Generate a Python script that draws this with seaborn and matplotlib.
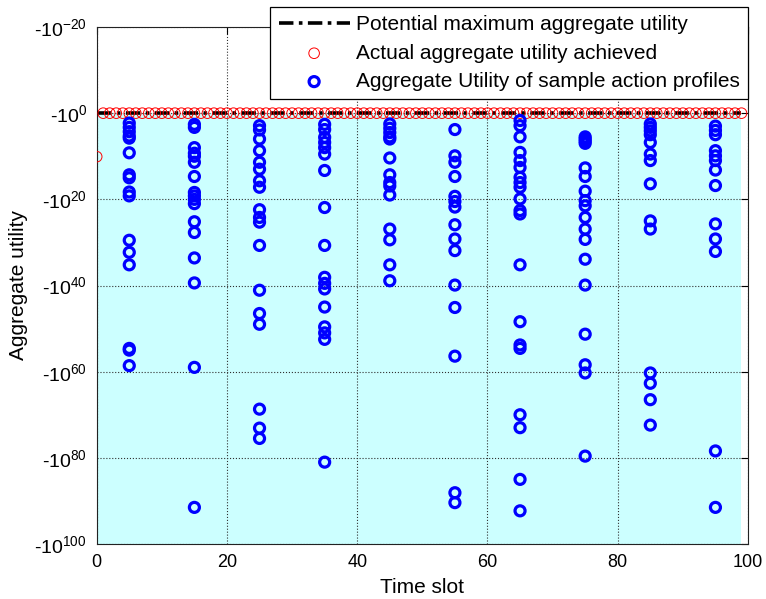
import numpy as np
import pandas as pd
import matplotlib
matplotlib.use("Agg")
import matplotlib.pyplot as plt
import seaborn as sns

# y values are the exponents k of -10^k (bigger k = worse utility, lower on the plot)
time_slots = list(range(0, 100))
potential_max_exp = [0.0] * 100
actual_exp = [10.1] + [0.0] * 99

sample_slots = [5, 15, 25, 35, 45, 55, 65, 75, 85, 95]
sample_exp_t5 = [2.3, 3.3, 4.3, 5.3, 5.8, 9.2, 14.3, 15.0, 18.3, 19.2, 29.5, 32.3, 35.2, 54.6, 55.0, 58.6]
sample_exp_t15 = [2.6, 3.3, 8.0, 9.3, 10.0, 11.4, 14.7, 18.4, 19.2, 20.0, 21.0, 25.2, 27.7, 33.6, 39.4, 59.0, 91.5]
sample_exp_t25 = [2.9, 3.9, 6.0, 8.7, 11.4, 13.0, 15.7, 17.2, 22.4, 24.2, 25.3, 30.7, 41.1, 46.5, 49.0, 68.7, 73.1, 75.5]
sample_exp_t35 = [2.6, 3.8, 5.6, 6.8, 8.0, 9.5, 13.3, 21.9, 30.7, 38.1, 39.5, 40.8, 45.0, 49.6, 51.0, 52.5, 81.0]
sample_exp_t45 = [2.5, 3.5, 4.5, 5.5, 6.0, 10.4, 14.3, 16.1, 16.9, 19.0, 26.9, 29.4, 35.2, 38.9]
sample_exp_t55 = [3.8, 9.9, 11.4, 14.7, 19.3, 20.5, 21.8, 25.9, 29.2, 31.9, 39.9, 45.1, 56.4, 88.1, 90.4]
sample_exp_t65 = [1.7, 2.9, 5.5, 9.1, 11.0, 12.6, 14.9, 16.1, 17.2, 19.9, 22.6, 23.4, 35.2, 48.4, 53.8, 54.6, 70.0, 73.0, 85.0, 92.3]
sample_exp_t75 = [5.5, 6.0, 6.5, 7.0, 12.7, 14.7, 18.1, 20.3, 21.5, 24.2, 26.9, 29.3, 33.9, 39.9, 51.3, 58.4, 60.3, 79.6]
sample_exp_t85 = [2.5, 3.3, 4.1, 5.0, 6.8, 9.5, 11.0, 16.4, 25.0, 26.9, 60.3, 62.7, 66.5, 72.4]
sample_exp_t95 = [3.0, 4.0, 5.0, 8.7, 9.9, 11.0, 13.2, 16.8, 25.7, 29.2, 32.1, 78.4, 91.5]

y_tick_exps = [-20, 0, 20, 40, 60, 80, 100]
x_ticks = [0, 20, 40, 60, 80, 100]

sample_lists = [sample_exp_t5, sample_exp_t15, sample_exp_t25, sample_exp_t35, sample_exp_t45,
                sample_exp_t55, sample_exp_t65, sample_exp_t75, sample_exp_t85, sample_exp_t95]
rows = []
for slot, exps in zip(sample_slots, sample_lists):
    for e in exps:
        rows.append({"slot": slot, "exp": e})
samples_df = pd.DataFrame(rows)
actual_df = pd.DataFrame({"slot": time_slots, "exp": actual_exp})
potential_df = pd.DataFrame({"slot": time_slots, "exp": potential_max_exp})

sns.set_style("white")
plt.rcParams['font.family'] = ['Liberation Sans', 'DejaVu Sans']
plt.rcParams['mathtext.default'] = 'regular'
plt.rcParams['text.color'] = 'black'
plt.rcParams['axes.labelcolor'] = 'black'
plt.rcParams['xtick.color'] = 'black'
plt.rcParams['ytick.color'] = 'black'

fig = plt.figure(figsize=(7.66, 5.99), dpi=100)
ax = fig.add_axes([96.7 / 766, 1 - 544 / 599, (748 - 96.7) / 766, (544 - 27) / 599])

# === cyan region below the max utility ===
ax.fill_between([0, 99], [0, 0], [100, 100], color="#ccffff", lw=0, zorder=0.3)

sns.lineplot(data=potential_df, x="slot", y="exp", ax=ax, color="black", lw=2.6,
             linestyle=(0, (4, 1.5, 1, 1.5)), label="Potential maximum aggregate utility", zorder=3)
sns.scatterplot(data=actual_df, x="slot", y="exp", ax=ax, marker="o", s=58, fc="none",
                ec="red", linewidth=0.7, label="Actual aggregate utility achieved", zorder=4)
sns.scatterplot(data=samples_df, x="slot", y="exp", ax=ax, marker="o", s=52, fc="none",
                ec="blue", linewidth=2.3, label="Aggregate Utility of sample action profiles", zorder=5)

ax.set_xlim(0, 100)
ax.set_ylim(100, -20)
ax.set_xticks(x_ticks)
ax.set_yticks(y_tick_exps)
ax.set_yticklabels(["-10$^{%d}$" % k for k in y_tick_exps])
ax.tick_params(direction="in", top=True, right=True, length=5, width=0.8, colors="black")
ax.tick_params(axis="x", pad=7, labelsize=13)
ax.tick_params(axis="y", pad=7, labelsize=14)
ax.set_axisbelow("line")
ax.grid(True, linestyle=":", color="#303030", lw=0.8)
for sp in ax.spines.values():
    sp.set_color("#222222")
    sp.set_linewidth(0.8)

ax.set_xlabel("Time slot", fontsize=15)
ax.set_ylabel("Aggregate utility", fontsize=15)
ax.xaxis.set_label_coords(0.5, -0.066)
ax.yaxis.set_label_coords(-0.105, 0.5)

handles, labels = ax.get_legend_handles_labels()
leg = ax.legend(handles, labels, loc="upper right", bbox_to_anchor=(748 / 766, 1 - 7 / 599),
                bbox_transform=fig.transFigure, fontsize=15, frameon=True, fancybox=False,
                framealpha=1, edgecolor="black", handlelength=3.4, handletextpad=0.3,
                labelspacing=0.45, borderpad=0.4, borderaxespad=0)
leg.get_frame().set_linewidth(0.9)

fig.savefig("out.png", dpi=100)
